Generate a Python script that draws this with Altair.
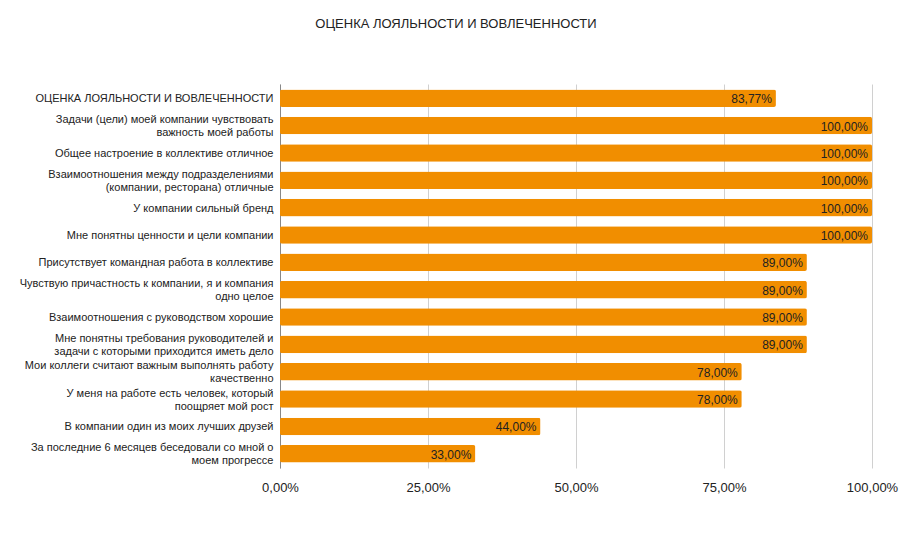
import altair as alt
import pandas as pd

categories = [
    "ОЦЕНКА ЛОЯЛЬНОСТИ И ВОВЛЕЧЕННОСТИ",
    "Задачи (цели) моей компании чувствовать|важность моей работы",
    "Общее настроение в коллективе отличное",
    "Взаимоотношения между подразделениями|(компании, ресторана) отличные",
    "У компании сильный бренд",
    "Мне понятны ценности и цели компании",
    "Присутствует командная работа в коллективе",
    "Чувствую причастность к компании, я и компания|одно целое",
    "Взаимоотношения с руководством хорошие",
    "Мне понятны требования руководителей и|задачи с которыми приходится иметь дело",
    "Мои коллеги считают важным выполнять работу|качественно",
    "У меня на работе есть человек, который|поощряет мой рост",
    "В компании один из моих лучших друзей",
    "За последние 6 месяцев беседовали со мной о|моем прогрессе",
]
values = [83.77, 100, 100, 100, 100, 100, 89, 89, 89, 89, 78, 78, 44, 33]
x_ticks = [0, 25, 50, 75, 100]

df = pd.DataFrame({"cat": categories, "val": values})
df["lbl"] = df["val"].map(lambda v: f"{v:.2f}".replace(".", ",") + "%")

FONT = "Liberation Sans"

base = alt.Chart(df).encode(
    y=alt.Y(
        "cat:N",
        sort=None,
        title=None,
        scale=alt.Scale(paddingInner=0.36, paddingOuter=0.2),
        axis=alt.Axis(
            labelExpr="split(datum.label, '|')",
            labelLimit=300,
            labelFontSize=11,
            labelLineHeight=13,
            labelColor="#222222",
            labelFont=FONT,
            labelPadding=7,
            labelOffset={
                "condition": {"test": "indexof(datum.value, '|') >= 0", "value": -5.5},
                "value": 1,
            },
            ticks=False,
            domainColor="#888888",
            domainWidth=1,
        ),
    ),
)

bars = base.mark_bar(color="#F18E00", cornerRadius=2).encode(
    x=alt.X(
        "val:Q",
        title=None,
        scale=alt.Scale(domain=[0, 100], nice=False),
        axis=alt.Axis(
            values=x_ticks,
            labelExpr="replace(format(datum.value, '.2f'), '.', ',') + '%'",
            labelFontSize=13,
            labelFont=FONT,
            labelColor="#222222",
            labelPadding=13,
            ticks=False,
            domain=False,
            gridColor="#d0d0d0",
            labelFlush=False,
        ),
    )
)

text = base.mark_text(
    align="right", baseline="middle", dx=-4, dy=1, fontSize=12, font=FONT, color="#222222"
).encode(x="val:Q", text="lbl:N")

chart = (
    alt.layer(bars, text)
    .properties(
        width=592,
        height=384,
        padding={"left": 280, "top": 84, "right": 29, "bottom": 84},
        autosize=alt.AutoSizeParams(type="none"),
        title=alt.TitleParams(
            "ОЦЕНКА ЛОЯЛЬНОСТИ И ВОВЛЕЧЕННОСТИ",
            fontSize=13,
            fontWeight="normal",
            font=FONT,
            color="#222222",
            anchor="middle",
            dx=-120,
            offset=53,
        ),
    )
    .configure_view(stroke=None)
)

chart.save("out.html", embed_options={"renderer": "svg", "actions": False})
